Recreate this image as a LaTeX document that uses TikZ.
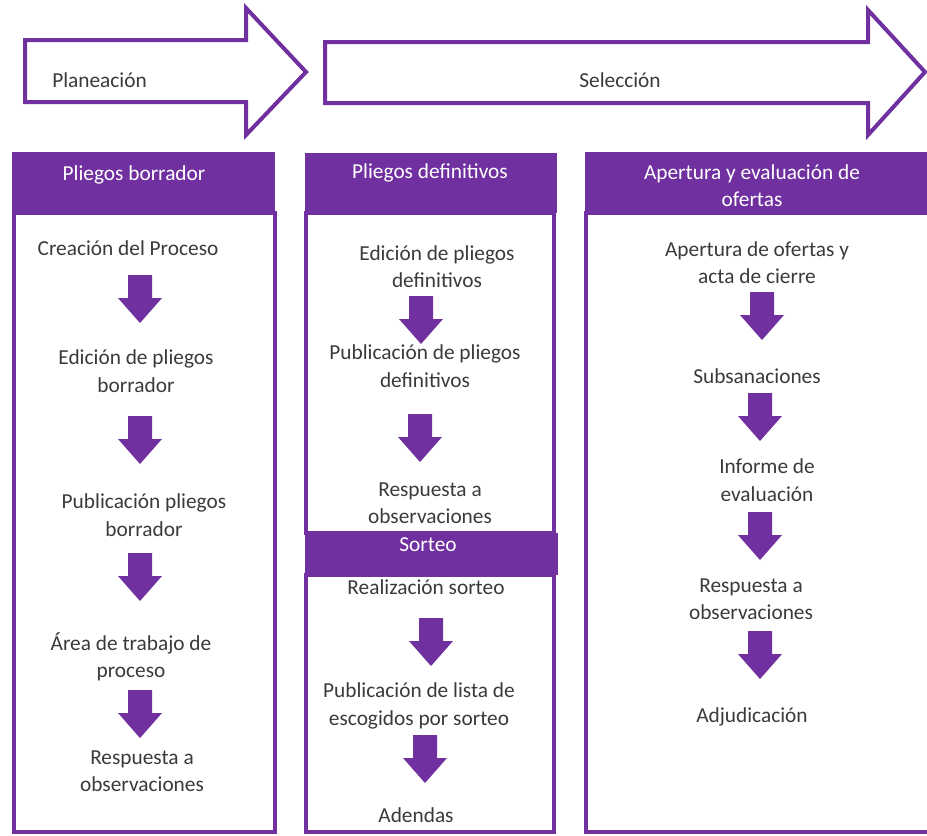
\documentclass[tikz,border=0pt]{standalone}
\usepackage{fontspec}
\setmainfont{Carlito}
\definecolor{purp}{HTML}{7030A0}
\definecolor{ink}{HTML}{3A3A3A}
\tikzset{
  phase/.style={draw=purp, line width=3pt, fill=white, line join=miter},
  headfill/.style={fill=purp},
  frame/.style={draw=purp, line width=3pt},
  htext/.style={text=white, font=\fontsize{16}{20.5}\selectfont, align=center, inner sep=0pt},
  itext/.style={text=ink, font=\fontsize{16}{20.5}\selectfont, align=center, inner sep=0pt},
  flowarrow/.pic={\fill[purp] (-12,0) -- (12,0) -- (12,23) -- (22,23) -- (0,48) -- (-22,23) -- (-12,23) -- cycle;}
}
\begin{document}
\begin{tikzpicture}[x=0.75pt, y=-0.75pt]
\useasboundingbox (0,0) rectangle (927,835);
\clip (0,0) rectangle (927,835);

% phase arrows
\draw[phase] (25,40) -- (246,40) -- (246,8) -- (306,72) -- (246,135) -- (246,102) -- (25,102) -- cycle;
\node[itext, anchor=west] (plan) at (52,80) {Planeación};
\draw[phase] (325,42) -- (868,42) -- (868,10) -- (925,72) -- (868,135) -- (868,103) -- (325,103) -- cycle;
\node[itext] (sel) at (620,80) {Selección};

% column 1: Pliegos borrador
\fill[headfill] (12,152) rectangle (275,213);
\draw[frame] (14,213) rectangle (275,832);
\node[htext] (h1) at (134,175) {Pliegos borrador};
\node[itext] (a1) at (128,248) {Creación del Proceso};
\pic at (140,275) {flowarrow};
\node[itext] (a2) at (136,371) {Edición de pliegos\\borrador};
\pic at (140,416) {flowarrow};
\node[itext] (a3) at (144,515) {Publicación pliegos\\borrador};
\pic at (140,553) {flowarrow};
\node[itext] (a4) at (131,657) {Área de trabajo de\\proceso};
\pic at (140,690) {flowarrow};
\node[itext] (a5) at (142,771) {Respuesta a\\observaciones};

% column 2: Pliegos definitivos and Sorteo
\fill[headfill] (305,153) rectangle (557,213);
\draw[frame] (306,213) rectangle (554,533);
\node[htext] (h2) at (430,173) {Pliegos definitivos};
\node[itext] (b1) at (437,267) {Edición de pliegos\\definitivos};
\pic at (421,296) {flowarrow};
\node[itext] (b2) at (425,366) {Publicación de pliegos\\definitivos};
\pic at (420,414) {flowarrow};
\node[itext] (b3) at (430,503) {Respuesta a\\observaciones};
\draw[frame] (306,575) rectangle (554,832);
\fill[headfill] (305,533) rectangle (558,575);
\node[htext] (h3) at (428,545) {Sorteo};
\node[itext] (c1) at (426,587) {Realización sorteo};
\pic at (431,618) {flowarrow};
\node[itext] (c2) at (419,706) {Publicación de lista de\\escogidos por sorteo};
\pic at (425,735) {flowarrow};
\node[itext] (c3) at (416,815) {Adendas};

% column 3: Apertura y evaluación de ofertas
\fill[headfill] (585,152) rectangle (930,213);
\draw[frame] (586,213) rectangle (940,832);
\node[htext] (h4) at (752,186) {Apertura y evaluación de\\ofertas};
\node[itext] (d1) at (757,263) {Apertura de ofertas y\\acta de cierre};
\pic at (762,292) {flowarrow};
\node[itext] (d2) at (757,376) {Subsanaciones};
\pic at (760,393) {flowarrow};
\node[itext] (d3) at (767,480) {Informe de\\evaluación};
\pic at (760,512) {flowarrow};
\node[itext] (d4) at (751,599) {Respuesta a\\observaciones};
\pic at (760,631) {flowarrow};
\node[itext] (d5) at (752,717) {Adjudicación};
\end{tikzpicture}
\end{document}
